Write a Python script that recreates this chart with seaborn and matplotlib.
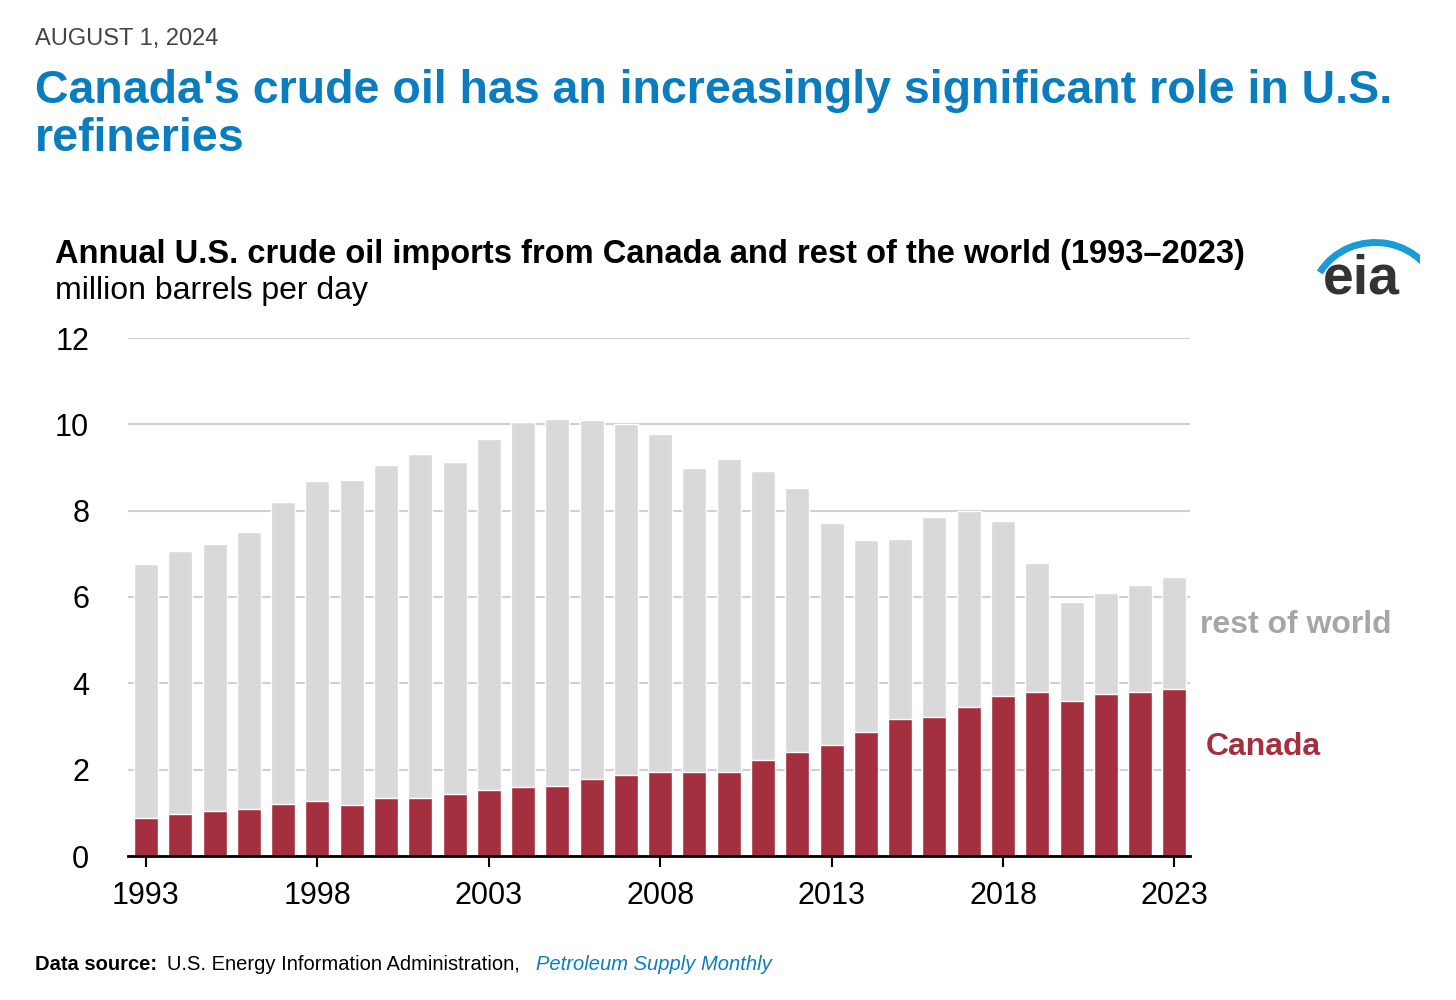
import pandas as pd
import matplotlib.pyplot as plt
import seaborn as sns
from matplotlib.patches import Arc

years = list(range(1993, 2024))
total = [6.76, 7.07, 7.23, 7.51, 8.20, 8.69, 8.71, 9.06, 9.31, 9.13, 9.66, 10.05, 10.12, 10.10,
         10.01, 9.78, 8.99, 9.20, 8.92, 8.52, 7.71, 7.32, 7.34, 7.85, 7.99, 7.76, 6.79, 5.88,
         6.09, 6.28, 6.46]
canada = [0.88, 0.97, 1.04, 1.09, 1.20, 1.27, 1.18, 1.34, 1.34, 1.44, 1.53, 1.60, 1.62, 1.78,
          1.88, 1.95, 1.95, 1.95, 2.22, 2.41, 2.57, 2.87, 3.17, 3.22, 3.45, 3.71, 3.80, 3.59,
          3.75, 3.80, 3.87]

df = pd.DataFrame({'year': years, 'total': total, 'canada': canada})

sns.set_style('white')
plt.rcParams['font.family'] = ['Liberation Sans', 'DejaVu Sans']
plt.rcParams['text.color'] = 'black'

fig = plt.figure(figsize=(14.56, 10), dpi=100)
ax = fig.add_axes([0.088, 0.144, 0.729, 0.518])

sns.barplot(data=df, x='year', y='total', color='#d9d9d9', width=0.7, ax=ax, saturation=1)
sns.barplot(data=df, x='year', y='canada', color='#a4303f', width=0.7, ax=ax, saturation=1)

ax.set_ylim(0, 12)
ax.set_xlim(-0.52, len(years) - 0.56)
ax.set_yticks(range(0, 13, 2))
ax.yaxis.grid(True, color='#d0d0d0', linewidth=1.5)
ax.set_axisbelow(True)
ticks = list(range(0, len(years), 5))
ax.set_xticks(ticks)
ax.set_xticklabels([str(years[i]) for i in ticks])
ax.tick_params(axis='x', length=8, width=1.5, color='black', labelsize=22, pad=10, bottom=True,
               labelcolor='black')
ax.tick_params(axis='y', length=0, labelsize=22, pad=28, labelcolor='black')
ax.set_xlabel('')
ax.set_ylabel('')
for s in ['top', 'right', 'left']:
    ax.spines[s].set_visible(False)
ax.spines['bottom'].set_color('black')
ax.spines['bottom'].set_linewidth(2)

ax.text(1.01, 0.445, 'rest of world', transform=ax.transAxes, fontsize=23, fontweight='bold',
        color='#a6a6a6', va='center')
ax.text(1.015, 0.21, 'Canada', transform=ax.transAxes, fontsize=23, fontweight='bold',
        color='#a4303f', va='center')

fig.text(0.024, 0.961, 'AUGUST 1, 2024', fontsize=17, color='#444444', va='center')
fig.text(0.024, 0.885, "Canada's crude oil has an increasingly significant role in U.S.\nrefineries",
         fontsize=33.5, fontweight='bold', color='#0b7dbf', va='center', linespacing=1.1)
fig.text(0.038, 0.746, 'Annual U.S. crude oil imports from Canada and rest of the world (1993\u20132023)',
         fontsize=23.5, fontweight='bold', va='center')
fig.text(0.038, 0.709, 'million barrels per day', fontsize=23, va='center')
fig.text(0.024, 0.035, 'Data source:', fontsize=14.5, fontweight='bold', va='center')
fig.text(0.115, 0.035, 'U.S. Energy Information Administration,', fontsize=14.5, va='center')
fig.text(0.368, 0.035, 'Petroleum Supply Monthly', fontsize=14.5, style='italic',
         color='#0b7dbf', va='center')

# eia logo
fig.text(0.935, 0.72, 'eia', fontsize=40, fontweight='bold', color='#333333', ha='center', va='center')
lax = fig.add_axes([0.895, 0.69, 0.08, 0.075])
lax.set_xlim(0, 1); lax.set_ylim(0, 1); lax.axis('off')
lax.add_patch(Arc((0.62, 0.1), 1.1, 1.6, theta1=10, theta2=140, color='#1a9ad6', linewidth=5))

fig.savefig('out.png', dpi=100)
